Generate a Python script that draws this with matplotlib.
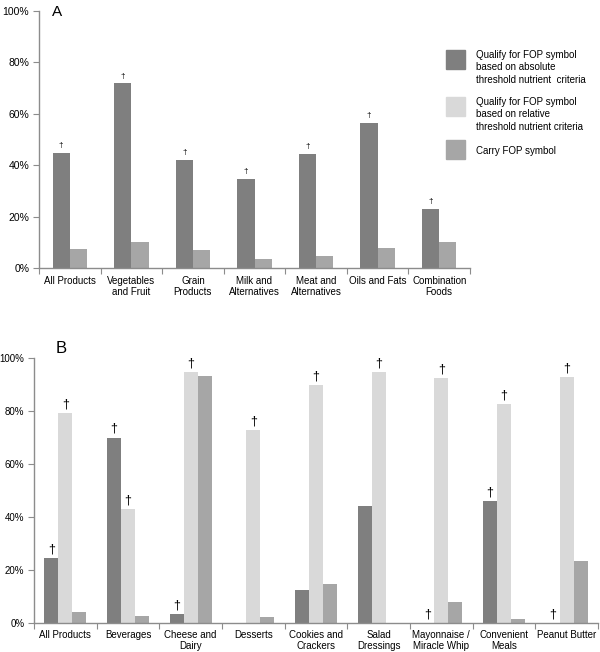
import numpy as np
import matplotlib.pyplot as plt
from matplotlib.patches import Rectangle

plt.rcParams['font.family'] = ['Liberation Sans', 'DejaVu Sans']

# panel A data
cats_a = ['All Products', 'Vegetables\nand Fruit', 'Grain\nProducts', 'Milk and\nAlternatives',
          'Meat and\nAlternatives', 'Oils and Fats', 'Combination\nFoods']
absolute_a = [44.9, 71.8, 42.2, 34.6, 44.4, 56.3, 23.0]
carry_a = [7.4, 10.1, 7.1, 3.6, 4.7, 7.8, 10.1]
dagger_a = [True, True, True, True, True, True, True]

# panel B data
cats_b = ['All Products', 'Beverages', 'Cheese and\nDairy', 'Desserts', 'Cookies and\nCrackers',
          'Salad\nDressings', 'Mayonnaise /\nMiracle Whip', 'Convenient\nMeals', 'Peanut Butter']
absolute_b = [24.6, 70.0, 3.3, 0.0, 12.6, 44.2, 0.0, 45.9, 0.0]
relative_b = [79.3, 43.0, 94.6, 72.9, 89.9, 94.6, 92.4, 82.5, 92.7]
carry_b = [4.2, 2.8, 93.3, 2.3, 14.6, 0.0, 7.9, 1.4, 23.3]
dagger_abs_b = [True, True, True, False, False, False, True, True, True]
dagger_rel_b = [True, True, True, True, True, True, True, True, True]

c_abs = '#7f7f7f'
c_rel = '#d9d9d9'
c_carry = '#a6a6a6'
spine_c = '#8c8c8c'
fs = 7

fig = plt.figure(figsize=(6, 6.52), dpi=100)


def style_axes(ax, n, label, lx, ly, lsize, ysize):
    ax.set_xlim(-0.5, n - 0.5)
    ax.set_ylim(0, 100)
    ax.set_yticks(np.arange(0, 101, 20))
    ax.set_yticklabels([f'{v}%' for v in range(0, 101, 20)])
    for s in ['top', 'right']:
        ax.spines[s].set_visible(False)
    for s in ['left', 'bottom']:
        ax.spines[s].set_color(spine_c)
        ax.spines[s].set_linewidth(1.0)
    ax.tick_params(axis='y', length=4, color=spine_c, labelsize=ysize, pad=3)
    ax.set_xticks(np.arange(0, n + 1) - 0.5)
    ax.set_xticklabels([])
    ax.tick_params(axis='x', which='major', length=4, color=spine_c, direction='out')
    ax.text(lx, ly, label, transform=ax.transAxes, fontsize=lsize, va='center', ha='left')


# --- panel A ---
axA = fig.add_axes([39 / 600, 1 - 268 / 652, 431 / 600, 257 / 652])
xa = np.arange(len(cats_a))
wa = 0.28
axA.bar(xa - wa / 2, absolute_a, wa, color=c_abs)
axA.bar(xa + wa / 2, carry_a, wa, color=c_carry)
style_axes(axA, len(cats_a), 'A', 0.03, 0.995, 11, 7.5)
axA.set_xticks(xa, minor=True)
axA.set_xticklabels(cats_a, minor=True, fontsize=fs, linespacing=1.1)
axA.tick_params(axis='x', which='minor', length=0, pad=6)
for x, v, d in zip(xa, absolute_a, dagger_a):
    if d:
        axA.text(x - wa / 2, v + 1.5, '\u2020', ha='center', va='bottom', fontsize=6)

# legend drawn by hand
leg = [(c_abs, 'Qualify for FOP symbol\nbased on absolute\nthreshold nutrient  criteria', 50),
       (c_rel, 'Qualify for FOP symbol\nbased on relative\nthreshold nutrient criteria', 97),
       (c_carry, 'Carry FOP symbol', 140)]
for col, txt, top in leg:
    fig.patches.append(Rectangle((446 / 600, 1 - (top + 19) / 652), 19 / 600, 19 / 652,
                                 transform=fig.transFigure, color=col))
    ty = top if '\n' in txt else top + 6
    fig.text(476 / 600, 1 - ty / 652, txt, fontsize=fs, va='top', ha='left', linespacing=1.3)

# --- panel B ---
axB = fig.add_axes([34 / 600, 1 - 623 / 652, 564 / 600, 265 / 652])
xb = np.arange(len(cats_b))
wb = 0.223
axB.bar(xb - wb, absolute_b, wb, color=c_abs)
axB.bar(xb, relative_b, wb, color=c_rel)
axB.bar(xb + wb, carry_b, wb, color=c_carry)
style_axes(axB, len(cats_b), 'B', 0.039, 1.035, 12, 7)
axB.set_xticks(xb, minor=True)
axB.set_xticklabels(cats_b, minor=True, fontsize=fs, linespacing=1.1)
axB.tick_params(axis='x', which='minor', length=0, pad=5)
for x, v, d in zip(xb, absolute_b, dagger_abs_b):
    if d:
        axB.text(x - wb, v + 1, '\u2020', ha='center', va='bottom', fontsize=9)
for x, v, d in zip(xb, relative_b, dagger_rel_b):
    if d:
        axB.text(x, v + 1, '\u2020', ha='center', va='bottom', fontsize=9)

fig.savefig('out.png', dpi=100)
